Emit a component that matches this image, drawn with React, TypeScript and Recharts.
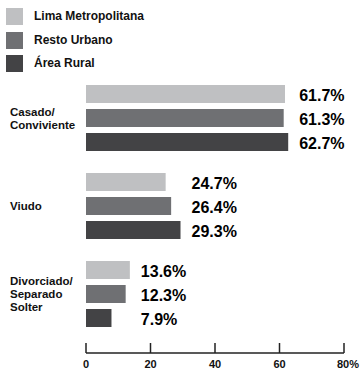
import { BarChart, Bar, XAxis, YAxis, LabelList } from "recharts"

// marital status share by area of residence (%)
const CATEGORIES = ["Casado/\nConviviente", "Viudo", "Divorciado/\nSeparado\nSolter"]
const SERIES = ["Lima Metropolitana", "Resto Urbano", "Área Rural"]
const LIMA = [61.7, 24.7, 13.6]
const RESTO = [61.3, 26.4, 12.3]
const RURAL = [62.7, 29.3, 7.9]
const X_TICKS = [0, 20, 40, 60, 80]
const COLORS = ["#bfc0c2", "#6f7073", "#434345"]
const KEYS = ["lima", "resto", "rural"]

const DATA = CATEGORIES.map((cat, i) => ({
  cat,
  lima: LIMA[i],
  resto: RESTO[i],
  rural: RURAL[i],
}))

// labels of one group line up just past its longest bar
const GROUP_MAX = CATEGORIES.map((_, i) => Math.max(LIMA[i], RESTO[i], RURAL[i]))

const FONT = "Arial, 'Liberation Sans', Helvetica, sans-serif"
const INK = "#111"

function ValueLabel(props: any) {
  const { x, y, width, height, value, index } = props
  const v = Number(value)
  const pxPerUnit = Number(width) / v
  const end = Number(x) + pxPerUnit * GROUP_MAX[index ?? 0]
  return (
    <text
      x={end + 11}
      y={Number(y) + Number(height) / 2 + 1}
      dy="0.36em"
      fontSize={16}
      fontWeight={700}
      fontFamily={FONT}
      fill="#000"
    >
      {v.toFixed(1)}%
    </text>
  )
}

function CategoryTick({ y, payload }: any) {
  const lines = String(payload.value).split("\n")
  const lh = 13
  return (
    <text fontSize={11.5} fontWeight={700} fontFamily={FONT} fill={INK}>
      {lines.map((line, i) => (
        <tspan key={i} x={10} y={y + (i - (lines.length - 1) / 2) * lh} dy="0.36em">
          {line}
        </tspan>
      ))}
    </text>
  )
}

function ValueTick({ x, y, payload, index }: any) {
  const last = index === X_TICKS.length - 1
  return (
    <g>
      <line x1={x} x2={x} y1={y} y2={y - 10} stroke="#222" strokeWidth={1.5} />
      <text
        x={last ? x - 7 : x}
        y={y + 15}
        textAnchor={last ? "start" : "middle"}
        fontSize={11}
        fontWeight={700}
        fontFamily={FONT}
        fill={INK}
      >
        {payload.value}
        {last ? "%" : ""}
      </text>
    </g>
  )
}

function LegendBox() {
  return (
    <div style={{ position: "absolute", left: 0, top: 0 }}>
      {SERIES.map((name, i) => (
        <div
          key={name}
          style={{
            position: "absolute",
            left: 6,
            top: 8 + i * 23.5,
            display: "flex",
            alignItems: "center",
            whiteSpace: "nowrap",
          }}
        >
          <span style={{ width: 17, height: 17, background: COLORS[i], display: "inline-block" }} />
          <span
            style={{
              marginLeft: 11,
              fontSize: 12,
              fontWeight: 700,
              fontFamily: FONT,
              color: INK,
              lineHeight: "17px",
            }}
          >
            {name}
          </span>
        </div>
      ))}
    </div>
  )
}

export default function App() {
  return (
    <div
      style={{
        position: "absolute",
        left: 0,
        top: 0,
        width: 361,
        height: 371,
        background: "#fff",
      }}
    >
      <BarChart
        width={361}
        height={371}
        data={DATA}
        layout="vertical"
        margin={{ top: 74, right: 17, bottom: 0, left: 0 }}
        barSize={18}
        barGap={6}
      >
        <XAxis
          type="number"
          domain={[0, 80]}
          ticks={X_TICKS}
          interval={0}
          height={18}
          tickSize={0}
          tickMargin={0}
          tickLine={false}
          axisLine={{ stroke: "#222", strokeWidth: 1.5 }}
          tick={<ValueTick />}
        />
        <YAxis
          type="category"
          dataKey="cat"
          width={86}
          axisLine={false}
          tickLine={false}
          padding={{ top: 0, bottom: 15 }}
          tick={<CategoryTick />}
        />
        {KEYS.map((k, i) => (
          <Bar key={k} dataKey={k} name={SERIES[i]} fill={COLORS[i]} isAnimationActive={false}>
            <LabelList dataKey={k} content={<ValueLabel />} />
          </Bar>
        ))}
      </BarChart>
      <LegendBox />
    </div>
  )
}
